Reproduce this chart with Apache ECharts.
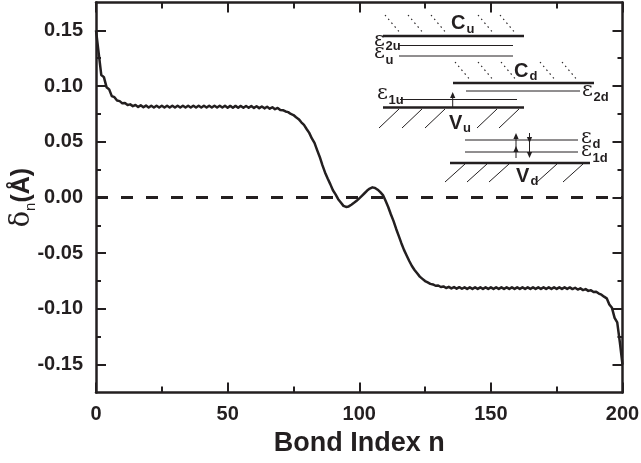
<!DOCTYPE html>
<html>
<head>
<meta charset="utf-8">
<script src="https://cdn.jsdelivr.net/npm/echarts@6/dist/echarts.min.js"></script>
<style>
  html, body { margin: 0; padding: 0; background: #fff; }
  #chart { width: 641px; height: 463px; }
</style>
</head>
<body>
<div id="chart"></div>
<script>
// Bond-length alternation delta_n (Å) for bond index n = 0 … 200
const delta = [
  0.150, 0.130, 0.110, 0.108, 0.099, 0.097, 0.091, 0.090, 0.087, 0.0865,
  0.0845, 0.0848, 0.0830, 0.0836, 0.0820, 0.0830, 0.0813, 0.0827, 0.0810, 0.0825,
  0.0808, 0.0824, 0.0808, 0.0824, 0.0807, 0.0823, 0.0807, 0.0823, 0.0807, 0.0823,
  0.0807, 0.0823, 0.0807, 0.0823, 0.0807, 0.0823, 0.0807, 0.0823, 0.0807, 0.0823,
  0.0807, 0.0823, 0.0807, 0.0823, 0.0807, 0.0823, 0.0807, 0.0823, 0.0807, 0.0823,
  0.0806, 0.0822, 0.0806, 0.0822, 0.0806, 0.0822, 0.0805, 0.0821, 0.0805, 0.0821,
  0.0804, 0.0819, 0.0802, 0.0817, 0.0800, 0.0814, 0.0797, 0.0810, 0.0792, 0.0804,
  0.0786, 0.0784, 0.0772, 0.0766, 0.0750, 0.0740, 0.0720, 0.0703, 0.0675, 0.0652,
  0.0615, 0.0580, 0.0530, 0.0490, 0.0425, 0.0364, 0.0290, 0.0225, 0.0170, 0.0120,
  0.0065, 0.0028, -0.0015, -0.0045, -0.0075, -0.0085, -0.0080, -0.0065, -0.0048, -0.0030,
  -0.0008, 0.0015, 0.0038, 0.0062, 0.0080, 0.0091, 0.0086, 0.0070, 0.0048, 0.0022,
  -0.0030, -0.0085, -0.0150, -0.0210, -0.0280, -0.0345, -0.0410, -0.0470, -0.0520, -0.0570,
  -0.0615, -0.0650, -0.0680, -0.0710, -0.0730, -0.0750, -0.0762, -0.0775, -0.0780, -0.0792,
  -0.0790, -0.0803, -0.0798, -0.0812, -0.0802, -0.0816, -0.0804, -0.0818, -0.0805, -0.0819,
  -0.0806, -0.0820, -0.0806, -0.0820, -0.0806, -0.0820, -0.0806, -0.0820, -0.0806, -0.0820,
  -0.0806, -0.0820, -0.0806, -0.0820, -0.0806, -0.0820, -0.0806, -0.0820, -0.0806, -0.0820,
  -0.0806, -0.0820, -0.0806, -0.0820, -0.0806, -0.0820, -0.0806, -0.0820, -0.0806, -0.0820,
  -0.0806, -0.0820, -0.0806, -0.0820, -0.0806, -0.0820, -0.0806, -0.0820, -0.0806, -0.0820,
  -0.0807, -0.0822, -0.0810, -0.0826, -0.0815, -0.0831, -0.0822, -0.0838, -0.0832, -0.0849,
  -0.0845, -0.0862, -0.0872, -0.0890, -0.0905, -0.0960, -0.0990, -0.1080, -0.1120, -0.1300,
  -0.1500
];

// Axis ranges and tick positions
const xRange = [0, 200];
const xStep = 50;
const yRange = [-0.175, 0.175];
const yMajorTicks = [-0.15, -0.10, -0.05, 0.00, 0.05, 0.10, 0.15];
const yMinorTicks = [-0.125, -0.075, -0.025, 0.025, 0.075, 0.125];
const zeroLevel = 0;

const INK = '#231f20';
const SANS = 'Liberation Sans, Arial, sans-serif';
const SERIF = 'DejaVu Serif, serif';

const curve = delta.map((v, i) => [i, v]);

function xAxisCfg(pos, showLabel) {
  return {
    type: 'value', position: pos, min: xRange[0], max: xRange[1], interval: xStep,
    axisLine: { show: true, onZero: false, lineStyle: { color: INK, width: 2.5 } },
    axisTick: { show: true, inside: true, length: 10, lineStyle: { color: INK, width: 2 } },
    minorTick: { show: true, splitNumber: 2, length: 6, lineStyle: { color: INK, width: 2 } },
    splitLine: { show: false },
    axisLabel: { show: showLabel, margin: 12, color: INK, fontFamily: SANS, fontWeight: 'bold', fontSize: 20 },
    name: showLabel ? 'Bond Index n' : '',
    nameLocation: 'middle', nameGap: 38, nameMoveOverlap: false,
    nameTextStyle: { color: INK, fontFamily: SANS, fontWeight: 'bold', fontSize: 27 }
  };
}

function yAxisCfg(pos, ticks, len, line, showLabel) {
  const cfg = {
    type: 'value', position: pos, min: yRange[0], max: yRange[1], offset: 0,
    axisLine: { show: line, onZero: false, lineStyle: { color: INK, width: 2.5 } },
    axisTick: { show: true, inside: true, length: len, customValues: ticks, lineStyle: { color: INK, width: 2 } },
    splitLine: { show: false },
    axisLabel: {
      show: showLabel, customValues: ticks, margin: 13, color: INK,
      fontFamily: SANS, fontWeight: 'bold', fontSize: 20,
      formatter: v => Number(v).toFixed(2)
    }
  };
  if (showLabel) {
    cfg.name = '{d|δ}{n|n}{b|(Å)}';
    cfg.nameLocation = 'middle';
    cfg.nameGap = 58;
    cfg.nameMoveOverlap = false;
    cfg.nameTextStyle = {
      color: INK,
      rich: {
        d: { fontFamily: SERIF, fontSize: 27, color: INK, lineHeight: 32 },
        n: { fontFamily: SANS, fontSize: 15, color: INK, lineHeight: 32, verticalAlign: 'bottom', padding: [12, 0, 0, 0] },
        b: { fontFamily: SANS, fontWeight: 'bold', fontSize: 25, color: INK, lineHeight: 32 }
      }
    };
  }
  return cfg;
}

// Energy-level sketch (inset, upper right)
const gfx = [];
function seg(x1, y1, x2, y2, w, dash) {
  gfx.push({ type: 'line', silent: true, shape: { x1, y1, x2, y2 },
    style: { stroke: INK, lineWidth: w, lineDash: dash || null } });
}
function txt(x, y, s, font) {
  gfx.push({ type: 'text', silent: true, x, y,
    style: { text: s, font, fill: INK, align: 'left', verticalAlign: 'middle' } });
}
function head(x, tipY, dir) {
  const h = 6 * dir;
  gfx.push({ type: 'polygon', silent: true,
    shape: { points: [[x, tipY], [x - 2.6, tipY + h], [x + 2.6, tipY + h]] },
    style: { fill: INK } });
}
const BIG = 'bold 20px ' + SANS;
const SUB = 'bold 13px ' + SANS;
const EPS = '21px ' + SERIF;

// conduction-band hatching (dotted)
[385, 408, 431, 478, 500].forEach(x => seg(x, 15, x + 16, 34, 1.1, [1.5, 3.5]));
[455, 478, 501, 540, 562].forEach(x => seg(x, 62, x + 16, 81, 1.1, [1.5, 3.5]));
// valence-band hatching (solid)
[379, 402, 425, 477, 499].forEach(x => seg(x, 128, x + 20, 109, 1));
[445, 467, 489, 537, 563].forEach(x => seg(x, 182, x + 20, 164, 1));

// band edges (thick) and levels (thin)
seg(383, 36, 524, 36, 2.5);
seg(399, 45.5, 513, 45.5, 1);
seg(399, 56, 513, 56, 1);
seg(453, 83, 594, 83, 2.5);
seg(466, 91, 580, 91, 1);
seg(400, 99.5, 517, 99.5, 1);
seg(383, 107.5, 524, 107.5, 2.5);
seg(465, 140, 578, 140, 1);
seg(465, 152, 578, 152, 1);
seg(450, 163, 590, 163, 2.5);

// arrows
seg(452.7, 107, 452.7, 94, 1);
head(452.7, 92, 1);
seg(516, 135, 516, 158, 1);
head(516, 133, 1);
head(516, 146, 1);
seg(529.5, 133, 529.5, 156, 1);
head(529.5, 143, -1);
head(529.5, 158, -1);

// labels
txt(451, 23, 'C', BIG);  txt(466.5, 29, 'u', SUB);
txt(514, 71, 'C', BIG);  txt(529.5, 76, 'd', SUB);
txt(449, 123, 'V', BIG); txt(463, 128, 'u', SUB);
txt(516, 176, 'V', BIG); txt(530.5, 181, 'd', SUB);
txt(374, 41, 'ε', EPS);  txt(385.5, 46, '2u', SUB);
txt(374, 53, 'ε', EPS);  txt(385.5, 60, 'u', SUB);
txt(377, 94, 'ε', EPS);  txt(388.5, 100, '1u', SUB);
txt(582, 91, 'ε', EPS);  txt(593.5, 97, '2d', SUB);
txt(581, 138, 'ε', EPS); txt(592.5, 144, 'd', SUB);
txt(581, 151, 'ε', EPS); txt(592.5, 158, '1d', SUB);

const chart = echarts.init(document.getElementById('chart'), null, { renderer: 'canvas' });
chart.setOption({
  animation: false,
  backgroundColor: '#fff',
  grid: { left: 96, right: 18.5, top: 2.5, bottom: 70.5, containLabel: false, outerBoundsMode: 'none' },
  xAxis: [xAxisCfg('bottom', true), xAxisCfg('top', false)],
  yAxis: [
    yAxisCfg('left', yMajorTicks, 10, true, true),
    yAxisCfg('left', yMinorTicks, 5, false, false),
    yAxisCfg('right', yMajorTicks, 10, true, false),
    yAxisCfg('right', yMinorTicks, 5, false, false)
  ],
  series: [
    {
      type: 'line', xAxisIndex: 0, yAxisIndex: 0, data: curve,
      showSymbol: false, symbol: 'none', smooth: false,
      lineStyle: { color: INK, width: 2.5, join: 'round' }, z: 3
    },
    {
      type: 'line', xAxisIndex: 0, yAxisIndex: 0,
      data: [[xRange[0], zeroLevel], [xRange[1], zeroLevel]],
      showSymbol: false, symbol: 'none',
      lineStyle: { color: INK, width: 3, type: [12, 13], cap: 'butt' }, z: 2
    }
  ],
  graphic: gfx
});
</script>
</body>
</html>
